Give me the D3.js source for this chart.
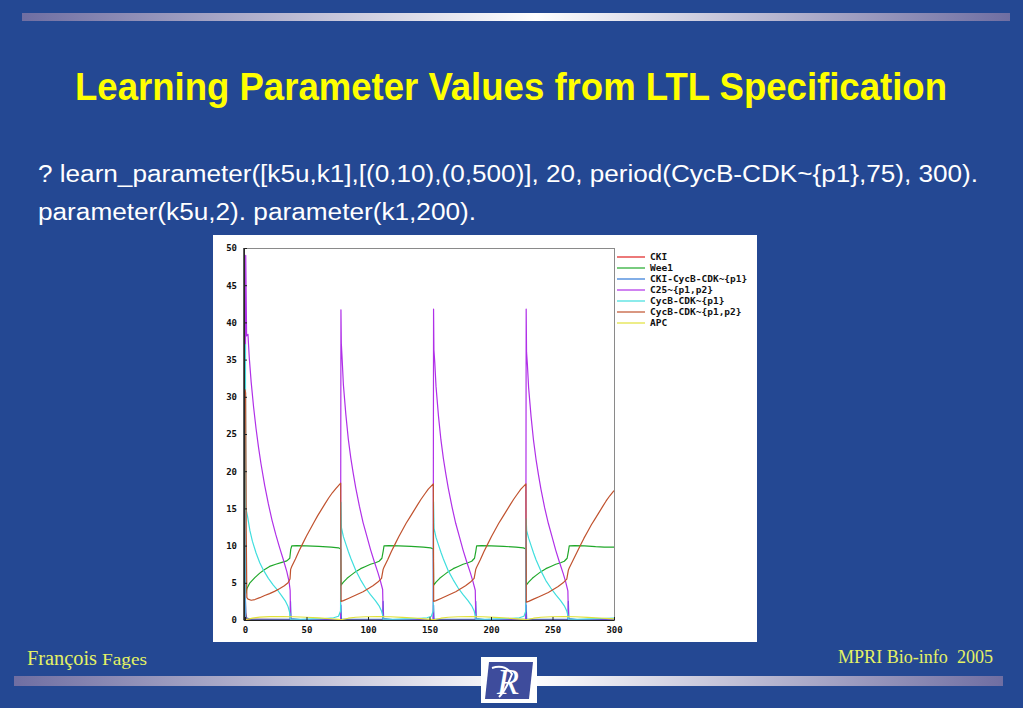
<!DOCTYPE html>
<html>
<head>
<meta charset="utf-8">
<script src="https://cdn.jsdelivr.net/npm/d3@7"></script>
<style>
  body { margin: 0; background: #244893; }
  svg { display: block; }
</style>
</head>
<body>
<svg id="slide"></svg>
<script>
// ---- data (time, value) ----
const xTicks = [0, 50, 100, 150, 200, 250, 300];
const yTicks = [0, 5, 10, 15, 20, 25, 30, 35, 40, 45, 50];

const seriesNames = ["CKI", "Wee1", "CKI-CycB-CDK~{p1}", "C25~{p1,p2}", "CycB-CDK~{p1}", "CycB-CDK~{p1,p2}", "APC"];
const seriesColors = ["#e02020", "#20a82a", "#2f78d8", "#b030e8", "#40dede", "#c0522e", "#e2e23a"];

const cki = [[0,6],[0.5,1],[1.5,0.1],[40,0.05],[120,0.05],[200,0.05],[300,0.05]];

const wee1 = [[0,26],[0.4,6.5],[0.8,3.6],[1.5,4.2],[4,5],[8,5.7],[12,6.3],[16,6.8],[20,7.2],[25,7.5],[30,7.75],[34,7.95],[36.4,8.3],[37.2,9.5],[38,9.95],[42,10],[50,9.95],[60,9.9],[70,9.8],[76,9.7],[77.8,9.55],[78.1,4.7],
  [80,5.1],[83,5.6],[86,6],[90,6.5],[94,6.9],[98,7.2],[102,7.5],[106,7.7],[109,7.9],[111.3,8.3],[112.4,9.3],[113,9.95],[117,10],[125,9.95],[135,9.9],[145,9.8],[151,9.7],[153.1,9.55],[153.4,4.7],
  [155.3,5.1],[158.3,5.6],[161.3,6],[165.3,6.5],[169.3,6.9],[173.3,7.2],[177.3,7.5],[181.3,7.7],[184.3,7.9],[186.6,8.3],[187.7,9.3],[188.3,9.95],[192.3,10],[200.3,9.95],[210.3,9.9],[220.3,9.8],[226.3,9.7],[228.4,9.55],[228.7,4.7],
  [230.6,5.1],[233.6,5.6],[236.6,6],[240.6,6.5],[244.6,6.9],[248.6,7.2],[252.6,7.5],[256.6,7.7],[259.6,7.9],[261.9,8.3],[263,9.3],[263.6,9.95],[268,10],[276,9.95],[285,9.85],[292,9.8],[300,9.8]];

const ckiCycb = [[0,0],[0.3,3],[0.8,0.3],[5,0.1],[36.6,0.1],[37,2.5],[37.4,0.2],[45,0.05],[77.7,0.1],[78,2],[78.4,0.1],[111.9,0.1],[112.3,2.5],[112.7,0.2],[120,0.05],[153,0.1],[153.3,2],[153.7,0.1],[187.2,0.1],[187.6,2.5],[188,0.2],[195,0.05],[228.3,0.1],[228.6,2],[229,0.1],[262.5,0.1],[262.9,2.5],[263.3,0.2],[270,0.05],[300,0.05]];

const c25 = [[0,0],[0.3,30],[0.6,49],[1.3,38.2],[2.4,38.4],[3.5,35.2],[5,32],[7,28.6],[9,25.7],[11,23.2],[13,21],[16,18.1],[19,15.6],[22,13.4],[25,11.5],[28,9.8],[31,8.2],[34,6.5],[35.8,5.2],[36.7,4],[37,1],[37.3,0],[60,0],[77.7,0],
  [78,41.7],[78.3,37.2],[79,35],[80,31.6],[82,27.6],[84,24.3],[86,21.8],[88,19.7],[90,17.8],[93,15.3],[96,13.1],[99,11.3],[102,9.5],[105,7.9],[108,6.4],[110,5.3],[111.9,4.1],[112.3,0.8],[112.6,0],[153,0],
  [153.3,41.8],[153.6,36.3],[154.3,34.6],[155.3,31.4],[157.3,27.4],[159.3,24.2],[161.3,21.7],[163.3,19.6],[165.3,17.7],[168.3,15.2],[171.3,13],[174.3,11.2],[177.3,9.4],[180.3,7.8],[183.3,6.3],[185.3,5.2],[187.2,4],[187.6,0.8],[187.9,0],[228.3,0],
  [228.6,41.8],[228.9,36],[229.6,34.3],[230.6,31.2],[232.6,27.3],[234.6,24.1],[236.6,21.6],[238.6,19.5],[240.6,17.6],[243.6,15.1],[246.6,13],[249.6,11.2],[252.6,9.4],[255.6,7.8],[258.6,6.3],[260.6,5.2],[262.5,3.9],[262.9,0.8],[263.2,0],[300,0]];

const cycbP1 = [[0,0],[0.3,37],[0.7,15],[2,14],[4,12],[6,10.6],[9,9],[12,7.7],[15,6.7],[19,5.6],[23,4.7],[27,3.9],[30,3.2],[33,2.5],[35,1.8],[36.5,0.9],[37,0.1],[45,0.1],[55,0.15],[65,0.2],[72,0.3],[76,0.5],[77.7,1.2],
  [78,15.8],[78.4,12.4],[80,11.2],[82,10.2],[84,9.2],[86,8.3],[90,6.7],[94,5.4],[98,4.3],[102,3.4],[106,2.6],[109,1.9],[111,1.2],[112,0.6],[112.4,0.1],[120,0.1],[130,0.15],[140,0.2],[148,0.3],[151.5,0.5],[153,1.2],
  [153.3,15.9],[153.7,12.3],[155.3,11.1],[157.3,10.1],[159.3,9.1],[161.3,8.2],[165.3,6.6],[169.3,5.4],[173.3,4.3],[177.3,3.4],[181.3,2.6],[184.3,1.9],[186.3,1.2],[187.3,0.6],[187.7,0.1],[195,0.1],[205,0.15],[215,0.2],[223,0.3],[226.8,0.5],[228.3,1.2],
  [228.6,13.6],[229,12],[230.6,11],[232.6,10],[234.6,9],[236.6,8.1],[240.6,6.6],[244.6,5.3],[248.6,4.3],[252.6,3.4],[256.6,2.6],[259.6,1.9],[261.6,1.2],[262.6,0.6],[263,0.1],[270,0.1],[280,0.15],[290,0.2],[300,0.25]];

const cycbP1P2 = [[0,31],[0.5,30.5],[1,12],[1.5,3],[2.5,2.8],[5,2.65],[8,2.75],[12,3],[16,3.3],[20,3.55],[24,3.85],[28,4.2],[32,4.6],[35,5],[36.6,5.5],[37.1,6.8],[38,7.2],[41,8.2],[44,9.3],[47,10.3],[50,11.3],[53,12.2],[56,13.1],[59,14],[62,14.8],[65,15.6],[68,16.4],[71,17.1],[74,17.7],[77.8,18.4],[78.1,2.5],
  [80,2.6],[84,2.9],[88,3.2],[92,3.5],[96,3.8],[100,4.2],[104,4.6],[108,5.1],[111,5.6],[112.3,6.8],[113,7.1],[116,8.1],[119,9.2],[122,10.2],[125,11.2],[128,12.1],[131,13],[134,13.8],[137,14.6],[140,15.4],[143,16.2],[146,16.9],[149,17.6],[153.1,18.3],[153.4,2.5],
  [155.3,2.6],[159.3,2.9],[163.3,3.2],[167.3,3.5],[171.3,3.8],[175.3,4.2],[179.3,4.6],[183.3,5.1],[186.3,5.6],[187.6,6.8],[188.3,7.1],[191.3,8.1],[194.3,9.2],[197.3,10.2],[200.3,11.2],[203.3,12.1],[206.3,13],[209.3,13.8],[212.3,14.6],[215.3,15.4],[218.3,16.2],[221.3,16.9],[224.3,17.6],[228.4,18.3],[228.7,2.4],
  [230.6,2.5],[234.6,2.8],[238.6,3.1],[242.6,3.4],[246.6,3.7],[250.6,4.1],[254.6,4.5],[258.6,5],[261.6,5.5],[262.9,6.7],[263.6,7],[266.6,8],[269.6,9],[272.6,10],[275.6,11],[278.6,11.9],[281.6,12.8],[284.6,13.6],[287.6,14.4],[290.6,15.2],[293.6,16],[296.6,16.7],[300,17.4]];

const apc = [[0,0],[2,0.1],[6,0.25],[12,0.38],[20,0.45],[30,0.47],[40,0.44],[50,0.37],[60,0.28],[70,0.17],[76,0.08],[78,0.02],
  [80,0.1],[84,0.24],[90,0.37],[98,0.44],[108,0.47],[118,0.44],[128,0.36],[138,0.27],[146,0.16],[151,0.08],[153.3,0.02],
  [155.3,0.1],[159.3,0.24],[165.3,0.37],[173.3,0.44],[183.3,0.47],[193.3,0.44],[203.3,0.36],[213.3,0.27],[221.3,0.16],[226.3,0.08],[228.6,0.02],
  [230.6,0.1],[234.6,0.24],[240.6,0.37],[248.6,0.44],[258.6,0.47],[268.6,0.44],[278.6,0.36],[288.6,0.27],[296,0.18],[300,0.14]];

const seriesData = [cki, wee1, ckiCycb, c25, cycbP1, cycbP1P2, apc];

// ---- slide ----
const W = 1023, H = 708;
const svg = d3.select("#slide").attr("width", W).attr("height", H);
svg.append("rect").attr("width", W).attr("height", H).attr("fill", "#244893");

const defs = svg.append("defs");
const grad = defs.append("linearGradient").attr("id", "bar");
grad.append("stop").attr("offset", "0%").attr("stop-color", "#6f6ea2");
grad.append("stop").attr("offset", "52%").attr("stop-color", "#ffffff");
grad.append("stop").attr("offset", "100%").attr("stop-color", "#6f6ea2");

svg.append("rect").attr("x", 22).attr("y", 13).attr("width", 988).attr("height", 8).attr("fill", "url(#bar)");
svg.append("rect").attr("x", 14).attr("y", 676).attr("width", 989).attr("height", 10).attr("fill", "url(#bar)");

svg.append("text")
    .attr("x", 75).attr("y", 100)
    .attr("textLength", 872).attr("lengthAdjust", "spacingAndGlyphs")
    .style("font-family", "'Liberation Sans', Arial, sans-serif")
    .style("font-weight", "bold").style("font-size", "38px")
    .attr("fill", "#ffff00")
    .text("Learning Parameter Values from LTL Specification");

const body = svg.append("g")
    .style("font-family", "'Liberation Sans', Arial, sans-serif")
    .style("font-size", "23px").attr("fill", "#ffffff");
body.append("text").attr("x", 38).attr("y", 182)
    .attr("textLength", 940).attr("lengthAdjust", "spacingAndGlyphs")
    .text("? learn_parameter([k5u,k1],[(0,10),(0,500)], 20, period(CycB-CDK~{p1},75), 300).");
body.append("text").attr("x", 38).attr("y", 220)
    .attr("textLength", 438).attr("lengthAdjust", "spacingAndGlyphs")
    .text("parameter(k5u,2). parameter(k1,200).");

// footer
const foot = svg.append("g").style("font-family", "'Liberation Serif', 'Times New Roman', serif").attr("fill", "#e4f264");
foot.append("text").attr("x", 27).attr("y", 665).style("font-size", "20px")
    .attr("textLength", 70).attr("lengthAdjust", "spacingAndGlyphs").text("François");
foot.append("text").attr("x", 102).attr("y", 665).style("font-size", "16px")
    .attr("textLength", 45).attr("lengthAdjust", "spacingAndGlyphs").text("Fages");
foot.append("text").attr("x", 838).attr("y", 663).style("font-size", "18px")
    .style("white-space", "pre")
    .attr("textLength", 155).attr("lengthAdjust", "spacingAndGlyphs").text("MPRI Bio-info  2005");

// logo
const logo = svg.append("g");
logo.append("rect").attr("x", 481).attr("y", 657).attr("width", 56).attr("height", 46).attr("fill", "#ffffff");
logo.append("path").attr("d", "M489,662 L533,662 L529,699 L485,699 Z").attr("fill", "#3e4c9c");
logo.append("text").attr("x", 497).attr("y", 694)
    .style("font-family", "'Liberation Serif', serif").style("font-style", "italic")
    .style("font-size", "36px").attr("fill", "#ffffff").text("R");
logo.append("path").attr("d", "M492,668 Q505,664 512,674 Q506,690 499,697")
    .attr("fill", "none").attr("stroke", "#ffffff").attr("stroke-width", 2);

// ---- chart image ----
svg.append("rect").attr("x", 213).attr("y", 235).attr("width", 544).attr("height", 407).attr("fill", "#ffffff");

const xscale = d3.scaleLinear().domain([0, 300]).range([245, 614]);
const yscale = d3.scaleLinear().domain([0, 50]).range([620, 248]);

const chart = svg.append("g");

chart.append("rect").attr("x", 243.5).attr("y", 248.5).attr("width", 371).attr("height", 371.5)
    .attr("fill", "none").attr("stroke", "#8a8a8a").attr("stroke-width", 1);

const line = d3.line().x(d => xscale(d[0])).y(d => yscale(d[1]));

seriesData.forEach((s, i) => {
    chart.append("path").datum(s)
        .attr("d", line)
        .attr("fill", "none")
        .attr("stroke", seriesColors[i])
        .attr("stroke-width", 1.2)
        .attr("stroke-linejoin", "round");
});

const tickFont = "'DejaVu Sans Mono', monospace";

const yaxis = d3.axisLeft(yscale).tickValues(yTicks).tickSize(-3).tickSizeOuter(0).tickPadding(7);
const yg = chart.append("g").attr("transform", "translate(244,0)").call(yaxis);
const xaxis = d3.axisBottom(xscale).tickValues(xTicks).tickSize(-3).tickSizeOuter(0).tickPadding(7);
const xg = chart.append("g").attr("transform", "translate(0,620)").call(xaxis);

[yg, xg].forEach(g => {
    g.select(".domain").attr("stroke", "#202020");
    g.selectAll(".tick line").attr("stroke", "#202020");
    g.selectAll(".tick text")
        .style("font-family", tickFont).style("font-weight", "bold")
        .style("font-size", "9px").attr("fill", "#111111");
});
chart.append("line").attr("x1", 244).attr("x2", 244).attr("y1", 248).attr("y2", 620).attr("stroke", "#303030");

// legend
const legend = chart.append("g");
seriesNames.forEach((name, i) => {
    const ly = 257 + i * 11;
    legend.append("line").attr("x1", 617).attr("x2", 645).attr("y1", ly).attr("y2", ly)
        .attr("stroke", seriesColors[i]).attr("stroke-width", 1.2);
    legend.append("text").attr("x", 650).attr("y", ly + 3)
        .style("font-family", tickFont).style("font-weight", "bold")
        .style("font-size", "9.5px").attr("fill", "#111111").text(name);
});
</script>
</body>
</html>
